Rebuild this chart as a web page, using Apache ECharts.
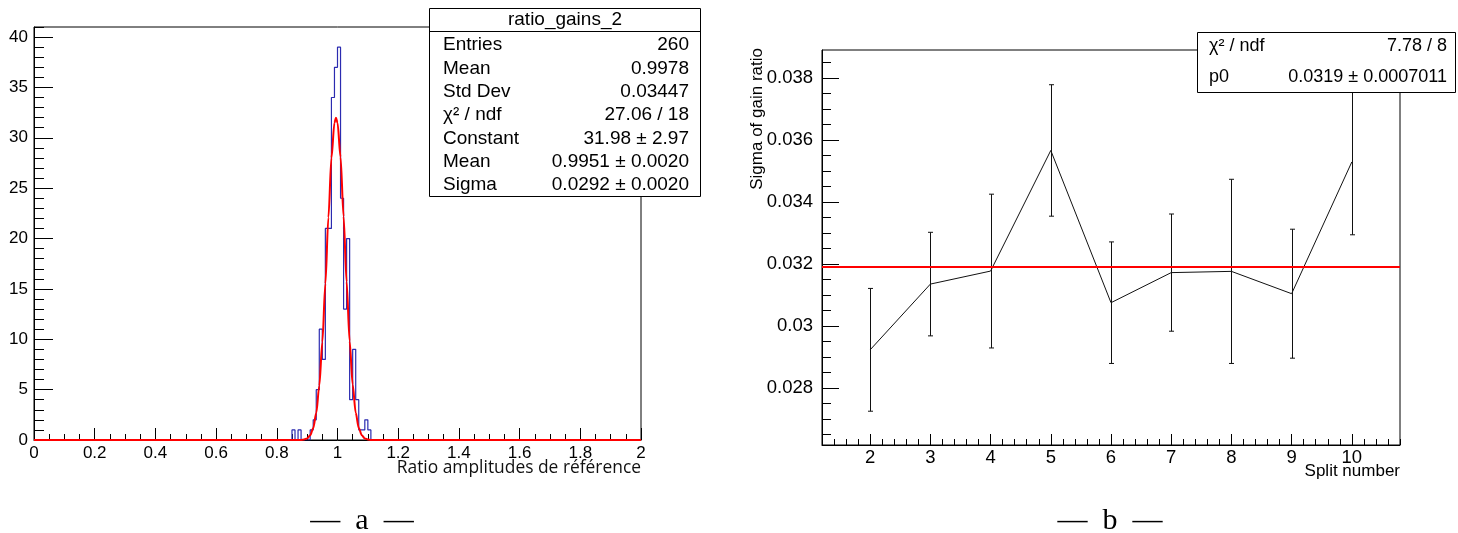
<!DOCTYPE html>
<html><head><meta charset="utf-8">
<script src="https://cdn.jsdelivr.net/npm/echarts@6/dist/echarts.min.js"></script>
<style>html,body{margin:0;padding:0;background:#fff;}#c{width:1458px;height:533px;}</style>
</head><body><div id="c"></div>
<script>
// ---------- Panel a : histogram ratio_gains_2 (bins of 0.01 on [0,2]) ----------
const histBinLow = [0.85,0.87,0.91,0.92,0.93,0.94,0.95,0.96,0.97,0.98,0.99,1.00,1.01,1.02,1.03,1.04,1.05,1.06,1.07,1.08,1.09,1.10];
const histCounts = [1,1,1,2,5,11,8,21,21,34,37,39,24,13,20,4,9,4,1,1,2,1];
// Gaussian fit curve
const fitX = [0,0.88,0.89,0.90,0.91,0.92,0.93,0.94,0.95,0.96,0.97,0.98,0.99,0.995,1.00,1.01,1.02,1.03,1.04,1.05,1.06,1.07,1.08,1.09,1.10,1.11,2];
const fitY = [0,0.01,0.05,0.16,0.46,1.17,2.67,5.39,9.70,15.5,22.1,28.0,31.5,32.0,31.5,28.1,22.2,15.7,9.8,5.5,2.7,1.2,0.47,0.16,0.05,0.01,0];
const xTicksA = [0,0.2,0.4,0.6,0.8,1,1.2,1.4,1.6,1.8,2];
const yTicksA = [0,5,10,15,20,25,30,35,40];
const statsTitleA = 'ratio_gains_2';
const statsLabelsA = ['Entries','Mean','Std Dev','χ² / ndf','Constant','Mean','Sigma'];
const statsValuesA = ['260','0.9978','0.03447','27.06 / 18','31.98 ± 2.97','0.9951 ± 0.0020','0.0292 ± 0.0020'];

// ---------- Panel b : sigma of gain ratio vs split number ----------
const splitNumbers = [2,3,4,5,6,7,8,9,10];
const sigmaValues = [0.02923,0.03135,0.03177,0.03566,0.03075,0.03172,0.03176,0.03104,0.03529];
const sigmaErrors = [0.00198,0.00167,0.00248,0.00212,0.00196,0.00189,0.00297,0.00208,0.00235];
const fitP0 = 0.0319;
const xTicksB = [2,3,4,5,6,7,8,9,10];
const yTicksB = [0.028,0.030,0.032,0.034,0.036,0.038];
const yMinorTicksB = [0.0265,0.027,0.0275,0.028,0.0285,0.029,0.0295,0.030,0.0305,0.031,0.0315,0.032,0.0325,0.033,0.0335,0.034,0.0345,0.035,0.0355,0.036,0.0365,0.037,0.0375,0.038,0.0385];
const statsLabelsB = ['χ² / ndf','p0'];
const statsValuesB = ['7.78 / 8','0.0319 ± 0.0007011'];

const SANS = 'Liberation Sans, Arial, Helvetica, sans-serif';
const SERIF = 'Liberation Serif, DejaVu Serif, serif';

// build full histogram (200 bins)
const histData = [];
for (let i = 0; i < 200; i++) histData.push([i / 100, 0]);
histBinLow.forEach((lo, k) => { histData[Math.round(lo * 100)][1] = histCounts[k]; });
histData.push([2, 0]);

const fitData = fitX.map((x, i) => [x, fitY[i]]);
const graphData = splitNumbers.map((x, i) => [x, sigmaValues[i]]);
const errData = splitNumbers.map((x, i) => [x, sigmaValues[i], sigmaErrors[i]]);

const black = '#000';
function hideAxisParts(o) { return Object.assign({ axisLine: {show: false}, axisLabel: {show: false}, splitLine: {show: false} }, o); }

const graphic = [];
// stats box a
graphic.push({type: 'rect', z: 100, shape: {x: 429.5, y: 8.5, width: 271, height: 188}, style: {fill: '#fff', stroke: black, lineWidth: 1}});
graphic.push({type: 'line', z: 101, shape: {x1: 429.5, y1: 31.5, x2: 700.5, y2: 31.5}, style: {stroke: black, lineWidth: 1}});
graphic.push({type: 'text', z: 102, x: 565, y: 20, style: {text: statsTitleA, fontSize: 19, fontFamily: SANS, fill: black, align: 'center', verticalAlign: 'middle'}});
statsLabelsA.forEach((t, i) => {
  const y = 45 + i * 23.33;
  graphic.push({type: 'text', z: 102, x: 443, y: y, style: {text: t, fontSize: 19, fontFamily: SANS, fill: black, align: 'left', verticalAlign: 'middle'}});
  graphic.push({type: 'text', z: 102, x: 689, y: y, style: {text: statsValuesA[i], fontSize: 19, fontFamily: SANS, fill: black, align: 'right', verticalAlign: 'middle'}});
});
// stats box b
graphic.push({type: 'rect', z: 100, shape: {x: 1197.5, y: 32.5, width: 258, height: 60}, style: {fill: '#fff', stroke: black, lineWidth: 1}});
statsLabelsB.forEach((t, i) => {
  const y = 46 + i * 31.5;
  graphic.push({type: 'text', z: 102, x: 1209, y: y, style: {text: t, fontSize: 18, fontFamily: SANS, fill: black, align: 'left', verticalAlign: 'middle'}});
  graphic.push({type: 'text', z: 102, x: 1447, y: y, style: {text: statsValuesB[i], fontSize: 18, fontFamily: SANS, fill: black, align: 'right', verticalAlign: 'middle'}});
});
// axis titles
graphic.push({type: 'text', z: 50, x: 641, y: 468, style: {text: 'Ratio amplitudes de référence', fontSize: 17.4, fontFamily: 'Open Sans, sans-serif', fill: '#111', align: 'right', verticalAlign: 'middle'}});
graphic.push({type: 'text', z: 50, x: 1400, y: 471, style: {text: 'Split number', fontSize: 17, fontFamily: SANS, fill: black, align: 'right', verticalAlign: 'middle'}});
graphic.push({type: 'text', z: 50, x: 757, y: 48, rotation: Math.PI / 2, style: {text: 'Sigma of gain ratio', fontSize: 17, fontFamily: SANS, fill: black, align: 'right', verticalAlign: 'middle'}});
// captions
graphic.push({type: 'text', z: 50, x: 362, y: 521, style: {text: '—  a  —', fontSize: 30, fontFamily: SERIF, fill: black, align: 'center', verticalAlign: 'middle'}});
graphic.push({type: 'text', z: 50, x: 1110, y: 521, style: {text: '—  b  —', fontSize: 30, fontFamily: SERIF, fill: black, align: 'center', verticalAlign: 'middle'}});

const option = {
  animation: false,
  backgroundColor: '#fff',
  grid: [
    {left: 34, top: 27, width: 607, height: 413, show: true, borderColor: black, borderWidth: 1, backgroundColor: 'transparent', containLabel: false},
    {left: 822, top: 50, width: 578, height: 395, show: true, borderColor: black, borderWidth: 1, backgroundColor: 'transparent', containLabel: false}
  ],
  xAxis: [
    {gridIndex: 0, type: 'value', position: 'bottom', min: 0, max: 2, interval: 0.2,
     axisLine: {show: true, lineStyle: {color: black, width: 1}},
     axisTick: {show: true, inside: true, length: 12, lineStyle: {color: black}},
     minorTick: {show: true, splitNumber: 4, length: 6, lineStyle: {color: black}},
     axisLabel: {fontSize: 17, fontFamily: SANS, color: black, margin: 5},
     splitLine: {show: false}, minorSplitLine: {show: false}},
    {gridIndex: 1, type: 'value', position: 'bottom', min: 1.2, max: 10.8, interval: 0.2,
     axisLine: {show: true, lineStyle: {color: black, width: 1}},
     axisTick: {show: true, inside: true, length: 6, lineStyle: {color: black}},
     axisLabel: {fontSize: 18.5, fontFamily: SANS, color: black, margin: 3,
       formatter: v => (Math.abs(v - Math.round(v)) < 1e-6 && xTicksB.indexOf(Math.round(v)) >= 0) ? String(Math.round(v)) : ''},
     splitLine: {show: false}},
    hideAxisParts({gridIndex: 1, type: 'value', position: 'bottom', min: 1.2, max: 10.8,
     axisTick: {show: true, inside: true, length: 11, customValues: xTicksB, lineStyle: {color: black}}})
  ],
  yAxis: [
    {gridIndex: 0, type: 'value', position: 'left', min: 0, max: 41, interval: 1,
     axisLine: {show: true, lineStyle: {color: black, width: 1}},
     axisTick: {show: true, inside: true, length: 10, lineStyle: {color: black}},
     axisLabel: {fontSize: 17, fontFamily: SANS, color: black, margin: 6,
       formatter: v => (yTicksA.indexOf(Math.round(v)) >= 0 && Math.abs(v - Math.round(v)) < 1e-6) ? String(Math.round(v)) : ''},
     splitLine: {show: false}},
    hideAxisParts({gridIndex: 0, type: 'value', position: 'left', min: 0, max: 41,
     axisTick: {show: true, inside: true, length: 19, customValues: yTicksA, lineStyle: {color: black}}}),
    {gridIndex: 1, type: 'value', position: 'left', min: 0.02616, max: 0.0389,
     axisLine: {show: true, lineStyle: {color: black, width: 1}},
     axisTick: {show: true, inside: true, length: 17, customValues: yTicksB, lineStyle: {color: black}},
     axisLabel: {fontSize: 18.5, fontFamily: SANS, color: black, margin: 9, customValues: yTicksB,
       formatter: v => String(Math.round(v * 1000) / 1000)},
     splitLine: {show: false}},
    hideAxisParts({gridIndex: 1, type: 'value', position: 'left', min: 0.02616, max: 0.0389,
     axisTick: {show: true, inside: true, length: 9, customValues: yMinorTicksB, lineStyle: {color: black}}})
  ],
  series: [
    {type: 'line', name: 'ratio_gains_2', xAxisIndex: 0, yAxisIndex: 0, data: histData, step: 'end',
     symbol: 'none', lineStyle: {color: '#2b2bb0', width: 1.2}, z: 3},
    {type: 'line', name: 'gaus', xAxisIndex: 0, yAxisIndex: 0, data: fitData, smooth: 0.3, smoothMonotone: 'x',
     symbol: 'none', lineStyle: {color: '#ff0000', width: 2}, z: 4},
    {type: 'line', name: 'graph', xAxisIndex: 1, yAxisIndex: 2, data: graphData,
     symbol: 'none', lineStyle: {color: '#111', width: 1}, z: 3},
    {type: 'custom', name: 'errors', xAxisIndex: 1, yAxisIndex: 2, data: errData,
     encode: {x: 0, y: 1},
     renderItem: function (params, api) {
       const x = api.value(0), y = api.value(1), e = api.value(2);
       const top = api.coord([x, y + e]);
       const bot = api.coord([x, y - e]);
       const cx = Math.round(top[0]) + 0.5;
       const st = {stroke: '#111', lineWidth: 1};
       return {type: 'group', children: [
         {type: 'line', shape: {x1: cx, y1: top[1], x2: cx, y2: bot[1]}, style: st},
         {type: 'line', shape: {x1: cx - 2.5, y1: top[1], x2: cx + 2.5, y2: top[1]}, style: st},
         {type: 'line', shape: {x1: cx - 2.5, y1: bot[1], x2: cx + 2.5, y2: bot[1]}, style: st}
       ]};
     }, z: 3},
    {type: 'line', name: 'pol0', xAxisIndex: 1, yAxisIndex: 2, data: [[1.2, fitP0], [10.8, fitP0]],
     symbol: 'none', lineStyle: {color: '#ff0000', width: 2}, z: 5}
  ],
  graphic: graphic
};
const chart = echarts.init(document.getElementById('c'));
chart.setOption(option);
</script>
</body></html>
